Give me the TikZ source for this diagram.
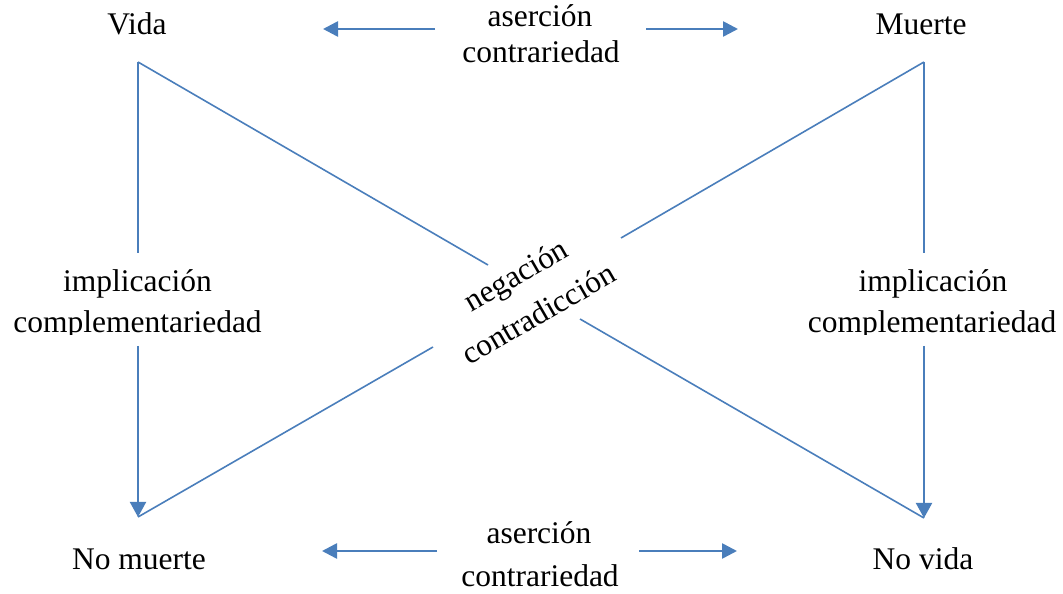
\documentclass[tikz,border=0pt]{standalone}
\usepackage{fontspec}
\setmainfont{Liberation Serif}
\usetikzlibrary{arrows.meta}
\definecolor{linkblue}{RGB}{74,126,187}
\begin{document}
\begin{tikzpicture}[x=1pt,y=1pt,
  every node/.style={font=\fontsize{31.5}{36}\selectfont, inner sep=0pt, anchor=base},
  thinline/.style={draw=linkblue, line width=1.6pt},
  vline/.style={draw=linkblue, line width=2pt},
  harrow/.style={draw=linkblue, line width=2.6pt, -{Triangle[length=15pt,width=15pt]}},
  varrow/.style={draw=linkblue, line width=2pt, -{Triangle[length=15pt,width=16pt]}}]
\useasboundingbox (0,0) rectangle (1063,594);

% corner terms
\node (vida)    at (137,559) {Vida};
\node (muerte)  at (921,559) {Muerte};
\node (nomuerte) at (139,24) {No muerte};
\node (novida)  at (923,24) {No vida};

% relation labels
\node (asTop)  at (540,567) {aserción};
\node (coTop)  at (541,531) {contrariedad};
\node (asBot)  at (539,50) {aserción};
\node (coBot)  at (540,7) {contrariedad};
\node (imL)    at (137.5,302) {implicación};
\node (imR)    at (933,302) {implicación};
\begin{scope}
  \clip (0,259.5) rectangle (1063,300);
  \node (cmL) at (137.5,261) {complementariedad};
  \node (cmR) at (932,261) {complementariedad};
\end{scope}
\node[rotate=30, anchor=center, align=center,
      font=\fontsize{31.5}{45}\selectfont] (neg) at (527,300) {negación\\contradicción};

% line end points
\coordinate (tl) at (138,532);
\coordinate (tr) at (924,532);
\coordinate (bl) at (138,77);
\coordinate (br) at (924,76);
\coordinate (lUp) at (138,341);
\coordinate (lDn) at (138,248);
\coordinate (rUp) at (924,341);
\coordinate (rDn) at (924,248);
\coordinate (d1a) at (488,329);
\coordinate (d1b) at (580,275);
\coordinate (d2a) at (621,356);
\coordinate (d2b) at (433,247);
\coordinate (atl0) at (435,565);
\coordinate (atl1) at (323,565);
\coordinate (atr0) at (646,565);
\coordinate (atr1) at (738,565);
\coordinate (abl0) at (437,43);
\coordinate (abl1) at (322,43);
\coordinate (abr0) at (639,43);
\coordinate (abr1) at (737,43);

% contrariety arrows
\draw[harrow] (atl0) -- (atl1);
\draw[harrow] (atr0) -- (atr1);
\draw[harrow] (abl0) -- (abl1);
\draw[harrow] (abr0) -- (abr1);

% implication sides
\draw[vline] (tl) -- (lUp);
\draw[varrow] (lDn) -- (bl);
\draw[vline] (tr) -- (rUp);
\draw[varrow] (rDn) -- (br);

% contradiction diagonals
\draw[thinline] (tl) -- (d1a);
\draw[thinline] (d1b) -- (br);
\draw[thinline] (tr) -- (d2a);
\draw[thinline] (d2b) -- (bl);
\end{tikzpicture}
\end{document}
